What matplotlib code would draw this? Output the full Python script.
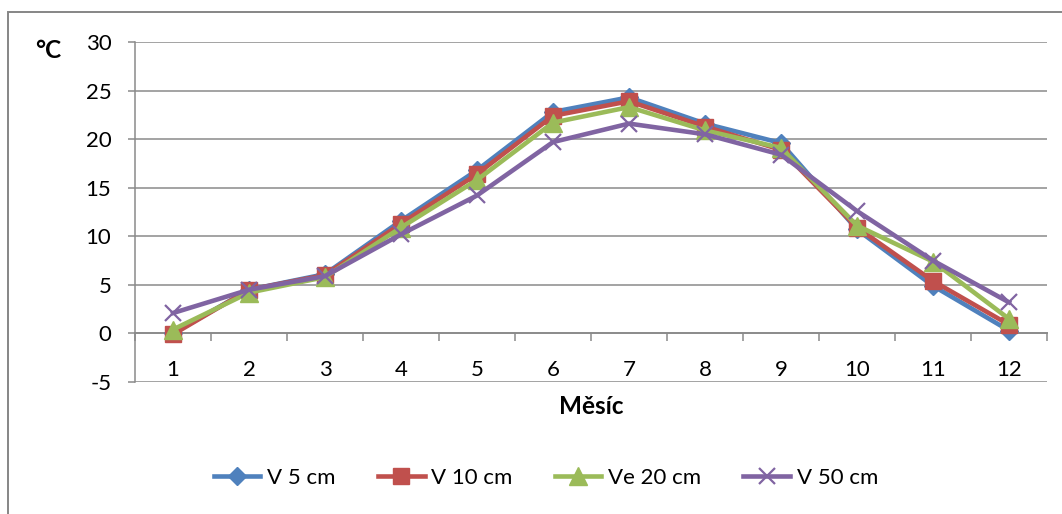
import matplotlib
matplotlib.use("Agg")
import matplotlib.pyplot as plt
from matplotlib.patches import Rectangle

plt.rcParams['font.family'] = ['Lato', 'DejaVu Sans']

months = [1, 2, 3, 4, 5, 6, 7, 8, 9, 10, 11, 12]
month_labels = [str(m) for m in months]

v5 = [0.0, 4.5, 6.1, 11.6, 16.8, 22.8, 24.3, 21.6, 19.6, 10.7, 4.9, 0.3]
v10 = [-0.1, 4.5, 6.0, 11.3, 16.4, 22.4, 23.9, 21.3, 18.9, 10.9, 5.4, 0.9]
v20 = [0.4, 4.2, 5.8, 10.9, 15.8, 21.7, 23.3, 20.9, 19.1, 11.1, 7.4, 1.5]
v50 = [2.1, 4.5, 5.9, 10.2, 14.2, 19.7, 21.6, 20.5, 18.4, 12.6, 7.5, 3.2]

series_names = ['V 5 cm', 'V 10 cm', 'Ve 20 cm', 'V 50 cm']
y_ticks = [-5, 0, 5, 10, 15, 20, 25, 30]

W, H = 1062, 514
fig = plt.figure(figsize=(W / 100, H / 100), dpi=100)
fig.patch.set_facecolor('white')

# outer chart frame
fig.patches.append(Rectangle((8 / W, -0.1), 1.2, (H - 12) / H + 0.1,
                             transform=fig.transFigure, fill=False,
                             edgecolor='#868686', linewidth=1.4))

left, right, top, bottom = 135, 1047, 42, 382
ax = fig.add_axes([left / W, (H - bottom) / H, (right - left) / W, (bottom - top) / H])

grid_col = '#8a8a8a'
ax.set_xlim(0.5, 12.5)
ax.set_ylim(-5, 30)
for yv in y_ticks:
    if yv != 0:
        ax.axhline(yv, color=grid_col, lw=1.1, zorder=0.5)

ax.spines['top'].set_visible(False)
ax.spines['right'].set_visible(False)
ax.spines['left'].set_color(grid_col)
ax.spines['left'].set_linewidth(1.1)
ax.spines['bottom'].set_position(('data', 0))
ax.spines['bottom'].set_color(grid_col)
ax.spines['bottom'].set_linewidth(1.4)

ax.set_yticks(y_ticks)
ax.set_yticklabels([str(v) for v in y_ticks])
ax.tick_params(axis='y', direction='out', length=5, width=1.1, color=grid_col,
               labelsize=16, pad=12, labelcolor='black')

ax.set_xticks(months)
ax.set_xticklabels(month_labels)
ax.set_xticks([m + 0.5 for m in [0] + months], minor=True)
ax.tick_params(axis='x', which='major', length=0, pad=19, labelsize=16,
               labelcolor='black')
ax.tick_params(axis='x', which='minor', direction='out', length=6, width=1.1,
               color=grid_col)

styles = [
    (v5, '#4F81BD', 'D', 9, 1.0),
    (v10, '#C0504D', 's', 12, 1.0),
    (v20, '#9BBB59', '^', 13, 1.0),
    (v50, '#8064A2', 'x', 12, 1.6),
]
handles = []
for i, (vals, col, mk, ms, mew) in enumerate(styles):
    h, = ax.plot(months, vals, color=col, lw=3.3, marker=mk, markersize=ms,
                 markeredgewidth=mew, markeredgecolor=col, markerfacecolor=col,
                 label=series_names[i], zorder=3 + i, clip_on=False)
    handles.append(h)

fig.text(48 / W, (H - 50) / H, '°C', fontsize=17.5, fontweight='bold',
         ha='center', va='center')
fig.text(591 / W, (H - 406) / H, 'Měsíc', fontsize=17.5, fontweight='bold',
         ha='center', va='center')

leg = fig.legend(handles=handles, loc='center', bbox_to_anchor=(546 / W, (H - 478) / H),
                 ncol=4, frameon=False, fontsize=16, handlelength=2.1,
                 handletextpad=0.3, columnspacing=1.9)

fig.savefig('out.png', dpi=100, facecolor='white')
